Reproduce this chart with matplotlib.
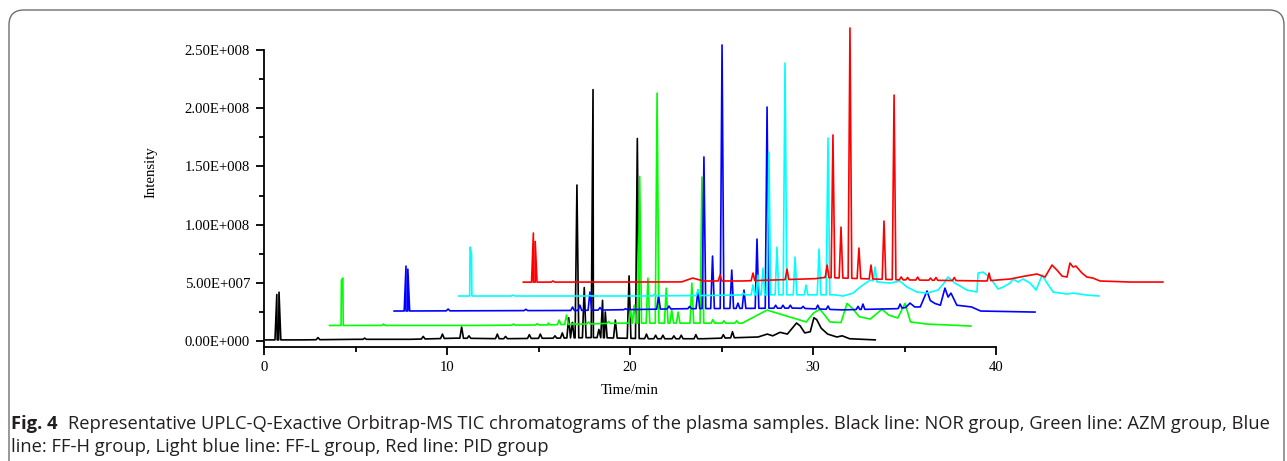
import matplotlib.pyplot as plt
import numpy as np
from matplotlib.patches import FancyBboxPatch
from matplotlib.ticker import MultipleLocator, FuncFormatter

# TIC chromatograms, time in min, intensity in units of 1e7 (own baseline, before stacking)
# each trace: slowly varying baseline vertices + sharp peaks (apex time, apex intensity)
black_base_t = [0.1, 2.0, 5.0, 8.0, 10.5, 13.0, 16.0, 18.0, 21.0, 24.0, 26.0, 27.0, 27.5, 27.8, 28.2, 28.6,
                29.1, 29.3, 29.55, 29.85, 30.05, 30.2, 30.45, 30.8, 31.3, 31.6, 32.0, 33.4]
black_base_i = [0.1, 0.1, 0.15, 0.15, 0.25, 0.2, 0.25, 0.3, 0.2, 0.2, 0.3, 0.35, 0.6, 0.45, 0.75, 0.6,
                1.55, 1.3, 0.7, 0.8, 2.0, 1.85, 1.1, 0.6, 0.35, 0.45, 0.2, 0.1]
black_peak_t = [0.7, 0.82, 2.95, 5.5, 8.7, 9.75, 10.8, 11.2, 12.75, 13.2, 14.5, 15.1, 15.9, 16.3, 16.65, 16.85,
                17.1, 17.5, 17.98, 18.3, 18.5, 18.65, 19.2, 19.95, 20.4, 20.9, 21.4, 21.8, 22.4, 22.8, 23.6,
                25.1, 25.6]
black_peak_i = [4.0, 4.2, 0.3, 0.25, 0.4, 0.6, 1.2, 0.45, 0.6, 0.4, 0.55, 0.6, 0.45, 0.7, 2.0, 1.6,
                13.4, 4.6, 21.6, 1.0, 3.5, 2.5, 1.8, 5.6, 17.4, 0.6, 0.5, 0.5, 0.45, 0.5, 0.55,
                0.55, 0.8]

green_base_t = [0.05, 8.0, 12.0, 16.0, 19.5, 22.6, 23.96, 26.1, 26.5, 26.85, 27.4, 28.0, 28.33, 28.6, 29.0,
                29.6, 30.24, 30.6, 31.1, 31.5, 31.8, 32.7, 35.1]
green_base_i = [0.1, 0.1, 0.15, 0.3, 0.3, 0.3, 1.42, 0.4, 1.17, 1.5, 0.4, 0.35, 2.0, 1.6, 0.85,
                0.65, 1.5, 1.0, 0.74, 2.0, 0.4, 0.22, 0.05]
green_peak_t = [0.7, 0.78, 3.0, 10.1, 11.4, 12.0, 12.6, 13.0, 13.4, 14.2, 15.3, 16.5, 16.7, 17.0, 17.45,
                17.95, 18.45, 18.75, 19.1, 19.85, 20.4, 21.0, 21.6, 22.3]
green_peak_i = [4.0, 4.17, 0.22, 0.22, 0.25, 0.3, 0.56, 1.0, 0.3, 0.4, 0.45, 1.42, 1.85, 12.9, 4.17,
                20.06, 3.3, 1.42, 1.25, 3.74, 12.85, 0.6, 0.5, 0.5]

blue_base_t = [0.05, 10.0, 16.0, 22.0, 24.5, 27.5, 28.0, 28.24, 28.5, 28.8, 29.17, 29.35, 29.6, 29.9,
               30.15, 30.32, 30.48, 30.8, 31.6, 32.1, 35.07]
blue_base_i = [0.1, 0.15, 0.3, 0.35, 0.2, 0.3, 0.4, 0.78, 0.45, 0.45, 1.82, 1.0, 0.75, 0.6,
               2.07, 1.3, 1.64, 0.6, 0.45, 0.1, 0.01]
blue_peak_t = [0.7, 0.8, 3.0, 7.25, 9.8, 10.2, 10.75, 11.3, 12.7, 14.5, 15.07, 16.2, 16.65, 16.98, 17.45,
               17.97, 18.5, 18.84, 19.17, 19.88, 20.43, 20.9, 21.3, 21.7, 22.4, 23.2, 23.76, 25.4, 25.67, 27.7]
blue_peak_i = [3.96, 3.7, 0.27, 0.25, 0.44, 0.61, 1.73, 0.4, 0.3, 1.39, 0.53, 0.5, 1.9, 13.33, 4.82,
               22.95, 3.62, 0.78, 1.9, 6.28, 17.62, 0.6, 0.6, 0.6, 0.5, 0.6, 0.53, 0.5, 0.7, 0.7]

cyan_base_t = [0.05, 10.0, 14.0, 16.0, 20.6, 21.05, 21.6, 21.98, 22.53, 22.96, 23.62, 24.16, 24.55, 25.09,
               25.64, 26.24, 26.62, 26.78, 27.17, 27.82, 28.37, 28.43, 28.7, 28.92, 29.25, 29.52, 29.8,
               30.18, 30.34, 30.61, 30.89, 31.27, 31.6, 31.93, 32.2, 32.53, 33.29, 33.62, 34.38, 35.04]
cyan_base_i = [0.15, 0.15, 0.2, 0.25, 0.25, 0.15, 0.4, 0.92, 1.52, 1.35, 1.26, 1.43, 0.92, 0.49,
               0.4, 0.66, 1.35, 1.78, 1.26, 0.66, 0.49, 2.12, 2.2, 1.95, 1.35, 0.75, 0.92,
               1.26, 1.61, 1.35, 1.61, 1.26, 0.66, 1.95, 1.26, 0.49, 0.32, 0.4, 0.23, 0.15]
cyan_peak_t = [0.67, 0.75, 3.02, 7.2, 10.75, 13.13, 15.6, 16.13, 16.4, 16.68, 17.0, 17.44, 17.88, 18.43,
               19.03, 19.74, 20.23, 22.8]
cyan_peak_i = [4.35, 3.8, 0.23, 0.2, 0.3, 0.66, 0.4, 1.1, 1.95, 2.55, 12.5, 4.35, 20.16, 3.5,
               1.09, 4.18, 13.72, 2.64]

red_base_t = [0.05, 8.7, 9.3, 9.9, 12.0, 14.0, 16.0, 16.5, 20.6, 25.3, 26.65, 27.46, 28.12, 28.56, 28.94,
              29.21, 29.49, 29.76, 29.92, 30.09, 30.25, 30.58, 30.85, 31.18, 31.56, 33.2, 35.0]
red_base_i = [0.1, 0.12, 0.45, 0.2, 0.2, 0.3, 0.4, 0.5, 0.3, 0.2, 0.37, 0.62, 0.8, 0.54, 1.57,
              1.14, 0.62, 0.54, 1.74, 1.4, 1.48, 0.88, 0.54, 0.45, 0.2, 0.11, 0.11]
red_peak_t = [0.6, 0.7, 1.67, 10.8, 12.6, 14.46, 16.65, 16.97, 17.41, 17.9, 18.39, 19.05, 19.76, 20.31,
              20.7, 21.05, 21.6, 22.3, 22.6, 23.6, 25.5]
red_peak_i = [4.32, 3.6, 0.2, 0.71, 0.88, 1.22, 1.57, 12.74, 4.83, 21.93, 3.03, 1.57, 5.35, 16.17,
              0.55, 0.5, 0.54, 0.45, 0.5, 0.5, 0.88]

groups = ['NOR', 'AZM', 'FF-H', 'FF-L', 'PID']
colors = ['#000000', '#00ff00', '#0000ff', '#00ffff', '#ff0000']
# Origin-style stacked offset
x_step = 3.53
y_step = 1.24e7


def build_trace(base_t, base_i, peak_t, peak_i, w=0.1):
    t = list(base_t)
    y = list(base_i)
    for pt, pi in zip(peak_t, peak_i):
        t += [pt - w, pt, pt + w]
        y += [np.interp(pt - w, base_t, base_i), pi, np.interp(pt + w, base_t, base_i)]
    order = np.argsort(t, kind='stable')
    return np.array(t)[order], np.array(y)[order] * 1e7


traces = [
    build_trace(black_base_t, black_base_i, black_peak_t, black_peak_i),
    build_trace(green_base_t, green_base_i, green_peak_t, green_peak_i),
    build_trace(blue_base_t, blue_base_i, blue_peak_t, blue_peak_i),
    build_trace(cyan_base_t, cyan_base_i, cyan_peak_t, cyan_peak_i),
    build_trace(red_base_t, red_base_i, red_peak_t, red_peak_i),
]

fig = plt.figure(figsize=(12.87, 4.61), dpi=100)

# rounded frame around figure + caption
frame = FancyBboxPatch((0.09, -0.3), 12.75, 4.81, boxstyle='round,pad=0,rounding_size=0.15',
                       transform=fig.dpi_scale_trans, fc='none', ec='#6e6e6e', lw=1.0)
fig.patches.append(frame)

ax = fig.add_axes([264 / 1287, 1 - 347 / 461, 732 / 1287, 297 / 461])
for k, (t, y) in enumerate(traces):
    ax.plot(t + k * x_step, y + k * y_step, color=colors[k], lw=1.2, clip_on=False, label=groups[k])

ax.set_xlim(0, 40)
ax.set_ylim(-5.1e6, 2.5e8)
ax.spines['top'].set_visible(False)
ax.spines['right'].set_visible(False)
ax.spines['left'].set_linewidth(1.3)
ax.spines['bottom'].set_linewidth(1.3)


def sci_fmt(v, pos):
    if v == 0:
        return '0.00E+000'
    e = int(np.floor(np.log10(abs(v))))
    return f'{v / 10 ** e:.2f}E+{e:03d}'


serif = 'Liberation Serif'
ax.xaxis.set_major_locator(MultipleLocator(10))
ax.xaxis.set_minor_locator(MultipleLocator(5))
ax.yaxis.set_major_locator(MultipleLocator(5e7))
ax.yaxis.set_minor_locator(MultipleLocator(2.5e7))
ax.yaxis.set_major_formatter(FuncFormatter(sci_fmt))
ax.tick_params(which='major', direction='out', length=6, width=1.3, pad=4)
ax.tick_params(which='minor', direction='out', length=3.5, width=1.3)
for lab in ax.get_xticklabels() + ax.get_yticklabels():
    lab.set_fontfamily(serif)
    lab.set_fontsize(10.6)

ax.set_xlabel('Time/min', fontfamily=serif, fontsize=10.6)
ax.xaxis.set_label_coords(0.5, -0.123)
ax.set_ylabel('Intensity', fontfamily=serif, fontsize=10.6)
ax.yaxis.set_label_coords(-0.146, 0.59)

# caption
cap_color = '#231f20'
cap_size = 13.2
fig.canvas.draw()
bold = fig.text(11 / 1287, 1 - 429 / 461, 'Fig. 4', fontfamily='Open Sans', fontweight='bold',
                fontsize=cap_size, color=cap_color, va='baseline')
bb = bold.get_window_extent(renderer=fig.canvas.get_renderer())
fig.text((bb.x1 + 11) / 1287, 1 - 429 / 461,
         'Representative UPLC-Q-Exactive Orbitrap-MS TIC chromatograms of the plasma samples. '
         'Black line: NOR group, Green line: AZM group, Blue',
         fontfamily='Open Sans', fontsize=cap_size, color=cap_color, va='baseline')
fig.text(11 / 1287, 1 - 452 / 461,
         'line: FF-H group, Light blue line: FF-L group, Red line: PID group',
         fontfamily='Open Sans', fontsize=cap_size, color=cap_color, va='baseline')

fig.savefig('out.png', dpi=100)
